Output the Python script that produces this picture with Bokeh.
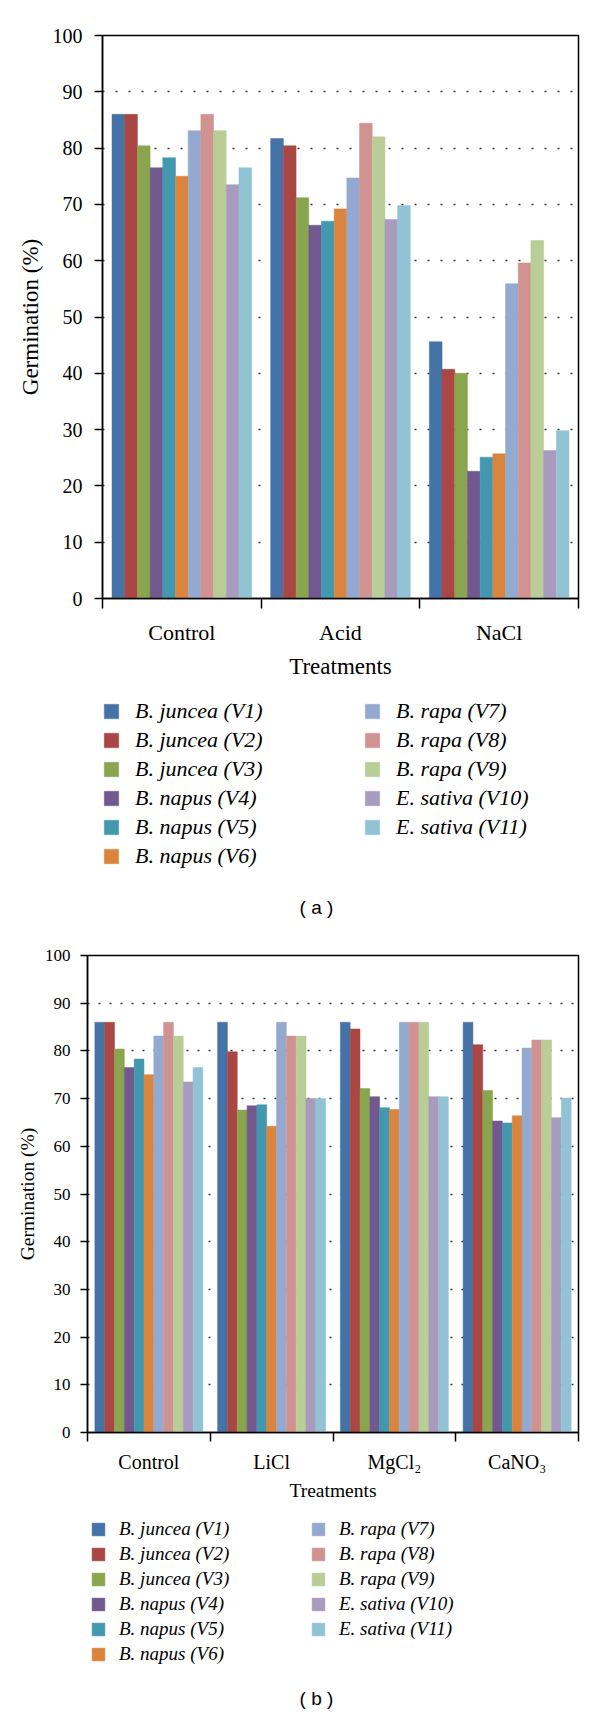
from bokeh.plotting import figure
from bokeh.models import (Range1d, FixedTicker, Legend, LegendItem, Label,
                          CustomJSTickFormatter)
from bokeh.layouts import column
from bokeh.embed import file_html
from bokeh.resources import INLINE

# ---------------- data ----------------
varieties = ["B. juncea (V1)", "B. juncea (V2)", "B. juncea (V3)",
             "B. napus (V4)", "B. napus (V5)", "B. napus (V6)",
             "B. rapa (V7)", "B. rapa (V8)", "B. rapa (V9)",
             "E. sativa (V10)", "E. sativa (V11)"]
colors = ["#4572A7", "#AA4643", "#89A54E", "#71588F", "#4198AF", "#DB843D",
          "#93A9CF", "#D19392", "#B9CD96", "#A99BBD", "#92C3D5"]

treatments_a = ["Control", "Acid", "NaCl"]
treatments_b = ["Control", "LiCl", "MgCl\u2082", "CaNO\u2083"]

# germination (%) per treatment, one value per variety V1..V11
control = [86.0, 86.0, 80.4, 76.5, 78.3, 75.0, 83.1, 86.0, 83.1, 73.5, 76.5]
acid = [81.7, 80.4, 71.2, 66.3, 67.0, 69.2, 74.7, 84.4, 82.0, 67.3, 69.8]
nacl = [45.6, 40.7, 40.0, 22.6, 25.1, 25.7, 55.9, 59.6, 63.6, 26.3, 29.8]
licl = [86.0, 79.8, 67.6, 68.5, 68.7, 64.2, 86.0, 83.1, 83.1, 70.0, 70.0]
mgcl2 = [86.0, 84.6, 72.1, 70.4, 68.1, 67.7, 86.0, 86.0, 86.0, 70.4, 70.4]
cano3 = [86.0, 81.3, 71.7, 65.3, 64.9, 66.4, 80.6, 82.3, 82.3, 66.0, 70.1]

y_ticks = [0, 10, 20, 30, 40, 50, 60, 70, 80, 90, 100]

SERIF = "Liberation Serif"
SANS = "Liberation Sans"
BAR_W = 0.08
WIDTH = 600


def bar_columns(n, groups, j):
    nv = len(varieties)
    xs = [i + 0.5 + (j - (nv - 1) / 2) * BAR_W for i in range(n)]
    tops = [g[j] for g in groups]
    return xs, tops


def build_chart(cats, groups, c):
    n = len(cats)
    p = figure(width=WIDTH, height=c["H"], output_backend="svg",
               toolbar_location=None,
               x_range=Range1d(0, n), y_range=Range1d(0, 100),
               min_border_left=c["bl"], min_border_right=c["br"],
               min_border_top=c["bt"], min_border_bottom=c["bb"])
    p.background_fill_color = "white"
    p.border_fill_color = "white"
    p.outline_line_color = "black"
    p.outline_line_width = 1.5
    p.outline_line_alpha = 1.0
    p.xgrid.visible = False

    for j in range(len(varieties)):
        xs, tops = bar_columns(n, groups, j)
        p.vbar(x=xs, top=tops, bottom=0, width=BAR_W,
               fill_color=colors[j], line_color=colors[j], line_width=0.5)

    # x axis: labels centred on groups, tick marks at group boundaries
    xa = p.xaxis[0]
    xa.ticker = FixedTicker(ticks=[i + 0.5 for i in range(n)],
                            minor_ticks=list(range(n + 1)))
    xa.formatter = CustomJSTickFormatter(args=dict(labels=cats),
                                         code="return labels[Math.floor(tick)];")
    xa.major_tick_out = 0
    xa.major_tick_in = 0
    xa.minor_tick_out = c["xtick"]
    xa.minor_tick_in = 0
    xa.minor_tick_line_color = "black"
    xa.minor_tick_line_width = 1.5
    xa.axis_line_width = 1.5
    xa.axis_line_color = "black"
    xa.major_label_text_font = SERIF
    xa.major_label_text_font_size = c["xfs"]
    xa.major_label_text_color = "black"
    xa.major_label_standoff = c["xstand"]
    xa.axis_label = "Treatments"
    xa.axis_label_text_font = SERIF
    xa.axis_label_text_font_size = c["afs"]
    xa.axis_label_text_font_style = "normal"
    xa.axis_label_text_color = "black"
    xa.axis_label_standoff = c["xlstand"]

    ya = p.yaxis[0]
    ya.ticker = FixedTicker(ticks=y_ticks)
    ya.minor_tick_line_color = None
    ya.major_tick_out = c["ytick"]
    ya.major_tick_in = 0
    ya.major_tick_line_width = 1.5
    ya.major_tick_line_color = "black"
    ya.axis_line_width = 1.5
    ya.axis_line_color = "black"
    ya.major_label_text_font = SERIF
    ya.major_label_text_font_size = c["yfs"]
    ya.major_label_text_color = "black"
    ya.major_label_standoff = c["ystand"]
    ya.axis_label = "Germination (%)"
    ya.axis_label_text_font = SERIF
    ya.axis_label_text_font_size = c["afs"]
    ya.axis_label_text_font_style = "normal"
    ya.axis_label_text_color = "black"
    ya.axis_label_standoff = c["ylstand"]

    g = p.ygrid[0]
    g.ticker = FixedTicker(ticks=y_ticks)
    g.grid_line_color = "#333333"
    g.grid_line_width = 1.3
    g.grid_line_dash = c["dash"]
    return p


def build_legend(cats, groups, c, caption):
    # panel under the chart holding the two-column legend and the caption;
    # its series are hidden copies of the chart's bars, used for the keys
    n = len(cats)
    q = figure(width=WIDTH, height=c["LH"], output_backend="svg",
               toolbar_location=None, x_axis_type=None, y_axis_type=None,
               x_range=Range1d(0, n), y_range=Range1d(0, 100),
               min_border_left=c["bl"], min_border_right=c["br"],
               min_border_top=0, min_border_bottom=0)
    q.outline_line_color = None
    q.background_fill_color = "white"
    q.border_fill_color = "white"
    q.grid.visible = False
    keys = []
    for j in range(len(varieties)):
        xs, tops = bar_columns(n, groups, j)
        r = q.vbar(x=xs, top=tops, bottom=0, width=BAR_W,
                   fill_color=colors[j], line_color=colors[j], line_width=0.5,
                   visible=False)
        keys.append(r)
    for idx, vx, vy in ((list(range(0, 6)), c["lx1"], c["ly1"]),
                        (list(range(6, 11)), c["lx2"], c["ly2"])):
        leg = Legend(items=[LegendItem(label=varieties[k], renderers=[keys[k]])
                            for k in idx],
                     location=(vx, vy), orientation="vertical",
                     padding=0, margin=0, spacing=0,
                     glyph_width=c["gw"], glyph_height=c["gw"],
                     label_height=c["pitch"], label_standoff=c["lstand"],
                     label_text_font=SERIF, label_text_font_size=c["lfs"],
                     label_text_font_style="italic", label_text_color="black",
                     background_fill_alpha=0, border_line_alpha=0,
                     inactive_fill_alpha=0, click_policy="none")
        q.add_layout(leg)
    q.add_layout(Label(x=c["capx"], y=c["capy"], x_units="screen", y_units="screen",
                       text=caption, text_font=SANS, text_font_size="19px",
                       text_align="center", text_baseline="middle",
                       text_color="black"))
    return q


# chart (a): page y 0..694, frame x 102..578, y 35..598 ; legend panel 694..930
ca = dict(H=694, bl=102, br=22, bt=35, bb=96,
          xtick=10, ytick=8, xfs="22px", yfs="20px", afs="23px",
          xstand=11, xlstand=6, ystand=12, ylstand=7, dash="2 11",
          LH=236, gw=18, pitch=29, lstand=15, lfs="22px",
          lx1=0, ly1=60, lx2=261, ly2=89, capx=214, capy=23)
# chart (b): page y 930..1512, frame x 87..578, y 955..1432 ; legend panel 1512..1715
cb = dict(H=582, bl=87, br=22, bt=25, bb=80,
          xtick=9, ytick=7, xfs="20px", yfs="17px", afs="19.5px",
          xstand=9, xlstand=4, ystand=10, ylstand=4, dash="2 9",
          LH=203, gw=16, pitch=25, lstand=13, lfs="19px",
          lx1=3, ly1=49, lx2=223, ly2=74, capx=229, capy=17)

groups_a = [control, acid, nacl]
groups_b = [control, licl, mgcl2, cano3]

panel_a = column(build_chart(treatments_a, groups_a, ca),
                 build_legend(treatments_a, groups_a, ca, "( a )"), spacing=0)
panel_b = column(build_chart(treatments_b, groups_b, cb),
                 build_legend(treatments_b, groups_b, cb, "( b )"), spacing=0)

open("out.html", "w").write(file_html([panel_a, panel_b], INLINE))
